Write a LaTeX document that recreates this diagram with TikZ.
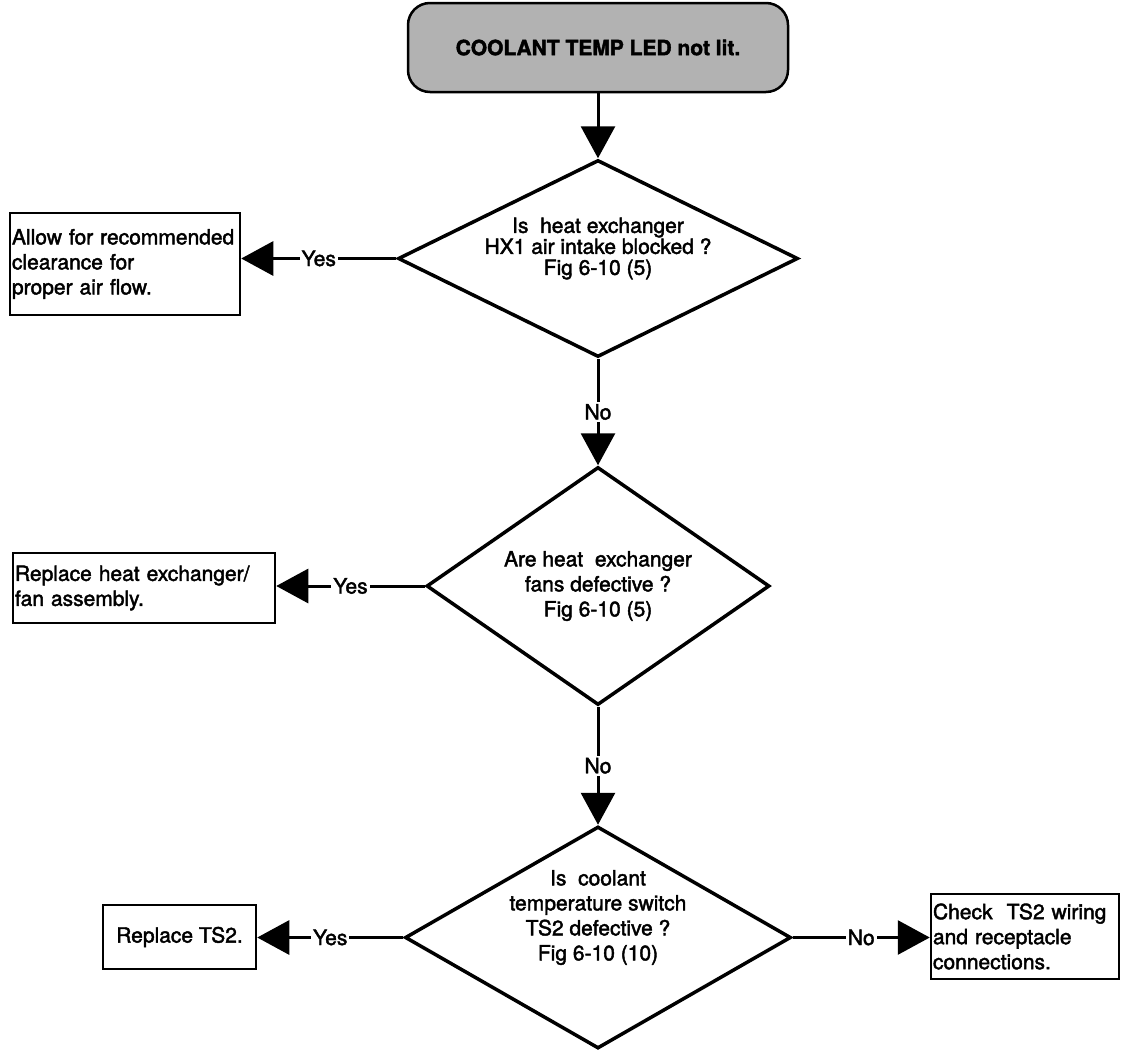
\documentclass[tikz,border=0pt]{standalone}
\usepackage{fontspec}
\setmainfont{TeX Gyre Heros}[FakeBold=2]
\usetikzlibrary{shapes.geometric, arrows.meta, positioning}

\begin{document}
\begin{tikzpicture}[
    x=1pt, y=-1pt,
    every node/.style={font={\fontsize{21}{25}\selectfont}},
    start/.style={rectangle, draw, line width=2.5pt, rounded corners=22pt, fill=black!30, minimum width=380pt, minimum height=89pt, font={\fontsize{21}{25}\selectfont\bfseries}},
    decision/.style={diamond, draw, line width=3.5pt, inner sep=0pt},
    question/.style={align=center, inner sep=0pt},
    action/.style={rectangle, draw, line width=2.5pt, inner sep=2pt, align=left},
    flow/.style={-{Triangle[length=32pt, width=34pt]}, line width=3pt},
    answer/.style={fill=white, inner sep=2pt, midway}
]

% Page frame
\useasboundingbox (0,0) rectangle (1122,1050);

% Start
\node[start] (led) at (598,47.5) {COOLANT TEMP LED not lit.};

% Decisions
\node[decision, minimum width=400pt, minimum height=197pt,
      label={[question, yshift=10pt, font={\fontsize{21}{21}\selectfont}]center:{Is\ \ heat exchanger\\HX1 air intake blocked ?\\Fig 6-10 (5)}}] (intake) at (598,258.5) {};
\node[decision, minimum width=343pt, minimum height=238pt,
      label={[question]center:{Are heat\ \ exchanger\\fans defective ?\\Fig 6-10 (5)}}] (fans) at (598,586) {};
\node[decision, minimum width=386pt, minimum height=222pt,
      label={[question, yshift=20pt]center:{Is\ \ coolant\\temperature switch\\TS2 defective ?\\Fig 6-10 (10)}}] (switch) at (598,937.5) {};

% Actions
\node[action, text width=226pt, minimum height=102pt] (clearance) at (125,264) {Allow for recommended\\clearance for\\proper air flow.};
\node[action, text width=258pt, minimum height=70pt] (replacefan) at (144,588) {Replace heat exchanger/\\fan assembly.};
\node[action, align=center, minimum width=153pt, minimum height=64pt] (replacets) at (179.5,937) {Replace TS2.};
\node[action, text width=184pt, minimum height=85pt] (wiring) at (1025,936.5) {Check\ \ TS2 wiring\\and receptacle\\connections.};

% Arrows
\draw[flow] (led.south) -- (intake.north);
\draw[flow] (intake.south) -- node[answer] {No} (fans.north);
\draw[flow] (fans.south) -- node[answer] {No} (switch.north);

\draw[flow] (intake.west) -- node[answer] {Yes} (intake.west -| clearance.east);
\draw[flow] (fans.west) -- node[answer] {Yes} (fans.west -| replacefan.east);
\draw[flow] (switch.west) -- node[answer] {Yes} (switch.west -| replacets.east);
\draw[flow] (switch.east) -- node[answer] {No} (switch.east -| wiring.west);

\end{tikzpicture}
\end{document}
